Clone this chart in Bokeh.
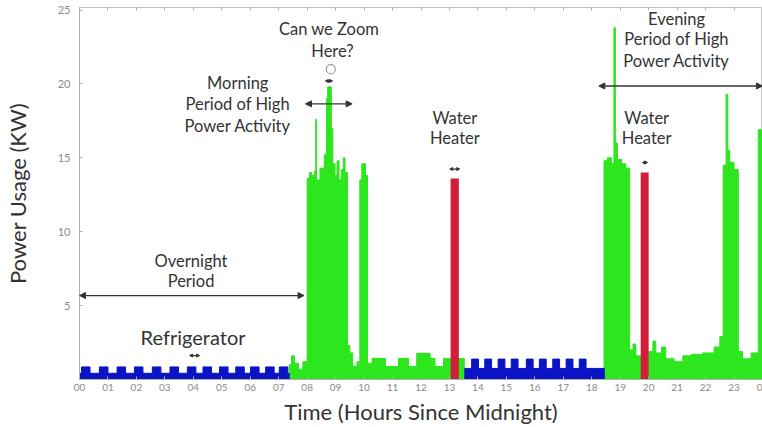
from bokeh.plotting import figure
from bokeh.models import Range1d, FixedTicker, Arrow, NormalHead, ColumnDataSource, LinearAxis
from bokeh.core.properties import value
from bokeh.embed import file_html
from bokeh.resources import INLINE

# ---------------- data ----------------
hour_ticks = list(range(25))
hour_labels = ["00", "01", "02", "03", "04", "05", "06", "07", "08", "09", "10", "11",
               "12", "13", "14", "15", "16", "17", "18", "19", "20", "21", "22", "23", "0"]
kw_ticks = [5, 10, 15, 20, 25]

# refrigerator (blue): base level span and on-cycles
fridge_base_start = [0.0, 13.54]
fridge_base_end = [7.37, 18.44]
fridge_base_kw = [0.42, 0.75]
fridge_on_start = [0.07, 0.70, 1.32, 1.93, 2.56, 3.18, 3.79, 4.34, 4.92, 5.49, 6.01, 6.54, 7.02,
                   13.78, 14.24, 14.71, 15.17, 15.70, 16.16, 16.63, 17.10, 17.56]
fridge_on_end = [0.37, 1.00, 1.62, 2.23, 2.86, 3.48, 4.09, 4.64, 5.22, 5.79, 6.31, 6.84, 7.32,
                 14.02, 14.48, 14.95, 15.41, 15.94, 16.40, 16.87, 17.34, 17.80]
fridge_on_kw = [0.85] * 13 + [1.38] * 9

# other household load (green), step edges (hours) and level (kW) per step
green_edges = [7.37, 7.45, 7.55, 7.70, 7.85, 8.00, 8.08, 8.15, 8.25, 8.30, 8.33, 8.45, 8.60,
               8.68, 8.72, 8.85, 8.90, 8.98, 9.05, 9.12, 9.20, 9.27, 9.33, 9.42, 9.50, 9.60,
               9.75, 9.85, 9.92, 10.05, 10.12, 10.28, 10.75, 11.21, 11.56, 11.85, 12.32, 12.49,
               12.79, 13.52, 18.43, 18.55, 18.70, 18.78, 18.83, 18.90, 19.05, 19.20, 19.33,
               19.45, 19.55, 19.72, 20.00, 20.15, 20.25, 20.45, 20.60, 20.90, 21.20, 21.50,
               21.90, 22.30, 22.50, 22.62, 22.72, 22.78, 22.85, 23.00, 23.15, 23.30, 23.60,
               23.85, 24.00]
green_kw = [1.0, 1.6, 1.1, 0.7, 1.2, 13.6, 14.0, 13.8, 14.1, 17.6, 13.5, 14.3,
            15.2, 19.0, 19.8, 17.0, 14.6, 13.8, 14.8, 13.5, 14.2, 15.0, 14.0, 2.3, 1.8,
            0.9, 1.2, 13.5, 14.6, 13.8, 1.1, 1.43, 0.88, 1.43, 0.88, 1.77, 1.43,
            0.88, 1.43, 0.0, 14.8, 15.0, 14.6, 23.8, 16.0, 14.9, 14.6, 14.3,
            2.0, 2.4, 1.6, 1.5, 1.9, 2.6, 1.8, 2.2, 1.4, 1.2, 1.6,
            1.7, 1.8, 2.2, 2.9, 14.5, 19.3, 15.5, 14.7, 14.2, 1.9, 1.4,
            1.8, 16.9]

# water heater (red)
heater_start = [13.04, 19.72]
heater_end = [13.33, 20.00]
heater_kw = [13.6, 14.0]

# annotations
note_text = ["Overnight", "Period", "Morning", "Period of High", "Power Activity",
             "Can we Zoom", "Here?", "Water", "Heater", "Water", "Heater",
             "Evening", "Period of High", "Power Activity"]
note_x = [3.92, 3.92, 5.56, 5.56, 5.56, 8.77, 8.89, 13.19, 13.19, 19.93, 19.93,
          20.98, 20.98, 20.98]
note_y = [8.04, 6.69, 20.07, 18.65, 17.16, 23.7, 22.2, 17.72, 16.37, 17.72, 16.37,
          24.37, 23.02, 21.55]
fridge_note = ["Refrigerator"]
fridge_note_x = [3.99]
fridge_note_y = [2.86]

span_x0 = [0.0, 7.94, 18.25, 3.87, 8.64, 13.01, 19.78]
span_x1 = [7.89, 9.58, 24.0, 4.22, 8.89, 13.36, 19.96]
span_y = [5.68, 18.65, 19.86, 1.62, 20.2, 14.24, 14.68]
span_head = [6, 6, 6, 3, 3, 3, 3]

zoom_mark_x = [8.83]
zoom_mark_y = [21.0]

# ---------------- figure ----------------
FONT = "Lato"
GREEN = "#2de61e"
BLUE = "#0a14c4"
RED = "#d01f38"
p = figure(width=762, height=427, output_backend="svg", toolbar_location=None,
           x_range=Range1d(0, 24), y_range=Range1d(0, 25.17),
           min_border_left=77, min_border_right=0, min_border_top=7, min_border_bottom=48)
p.background_fill_color = "white"
p.border_fill_color = "white"
p.outline_line_color = "#c4c4c4"
p.xgrid.visible = False
p.ygrid.visible = False

green_src = ColumnDataSource(dict(left=green_edges[:-1], right=green_edges[1:], top=green_kw))
p.quad(left="left", right="right", bottom=0, top="top", source=green_src,
       fill_color=GREEN, line_color=GREEN, line_width=1)

p.quad(left=fridge_base_start, right=fridge_base_end, bottom=0, top=fridge_base_kw,
       fill_color=BLUE, line_color=BLUE, line_width=1)
p.quad(left=fridge_on_start, right=fridge_on_end, bottom=0, top=fridge_on_kw,
       fill_color=BLUE, line_color=BLUE, line_width=1)

p.quad(left=heater_start, right=heater_end, bottom=0, top=heater_kw,
       fill_color=RED, line_color=None)

p.text(x=note_x, y=note_y, text=note_text, text_font=value(FONT), text_font_size="16.5px",
       text_color="#333333", text_align="center", text_baseline="middle")
p.text(x=fridge_note_x, y=fridge_note_y, text=fridge_note, text_font=value(FONT),
       text_font_size="20px", text_color="#333333", text_align="center", text_baseline="middle")

for x0, x1, y, hs in zip(span_x0, span_x1, span_y, span_head):
    p.add_layout(Arrow(x_start=x0, y_start=y, x_end=x1, y_end=y, line_color="#333333",
                       line_width=1.3,
                       start=NormalHead(size=hs, fill_color="#333333", line_color="#333333"),
                       end=NormalHead(size=hs, fill_color="#333333", line_color="#333333")))

p.scatter(x=zoom_mark_x, y=zoom_mark_y, marker="circle", size=9, fill_color=None,
          line_color="#999999", line_width=1.2)

# top border tick marks (no labels)
top_axis = LinearAxis(ticker=FixedTicker(ticks=hour_ticks), axis_line_color=None,
                      major_tick_line_color="#b0b0b0", major_tick_in=3, major_tick_out=0,
                      minor_tick_line_color=None, major_label_text_font_size="1px",
                      major_label_text_alpha=0, major_label_standoff=0)
p.add_layout(top_axis, "above")

# axes
p.xaxis.ticker = FixedTicker(ticks=hour_ticks)
p.below[0].major_label_overrides = {h: lab for h, lab in zip(hour_ticks, hour_labels)}
p.yaxis.ticker = FixedTicker(ticks=kw_ticks)
for ax in (p.below[0], p.yaxis[0]):
    ax.axis_line_color = "#b0b0b0"
    ax.major_tick_line_color = "#b0b0b0"
    ax.major_tick_out = 0
    ax.major_tick_in = 3
    ax.minor_tick_line_color = None
    ax.major_label_text_color = "#8a8a8a"
    ax.major_label_text_font = FONT
    ax.axis_label_text_font = FONT
    ax.axis_label_text_font_style = "normal"
    ax.axis_label_text_color = "#333333"
    ax.axis_label_text_font_size = "22px"
p.below[0].major_label_text_font_size = "10px"
p.yaxis.major_label_text_font_size = "11px"
p.below[0].major_label_standoff = 4
p.yaxis.major_label_standoff = 9
p.below[0].axis_label = "Time (Hours Since Midnight)"
p.yaxis.axis_label = "Power Usage (KW)"
p.below[0].axis_label_standoff = 4
p.yaxis.axis_label_standoff = 24

open("out.html", "w").write(file_html(p, INLINE))
